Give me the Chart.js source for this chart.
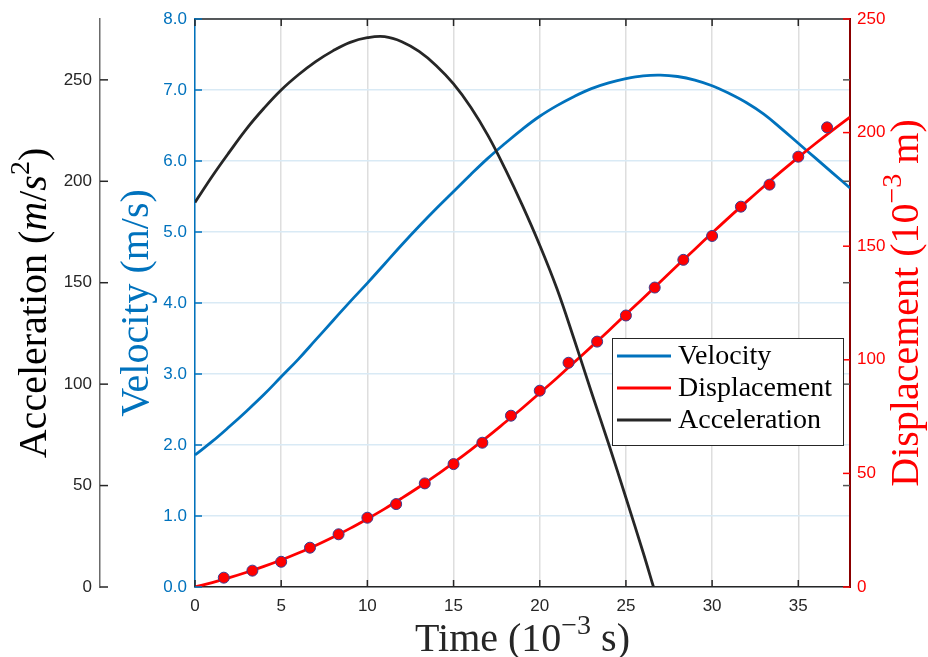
<!DOCTYPE html>
<html>
<head>
<meta charset="utf-8">
<script src="https://cdn.jsdelivr.net/npm/chart.js@4.4.1/dist/chart.umd.min.js"></script>
<style>
  html, body { margin: 0; padding: 0; background: #fff; }
  canvas { display: block; }
</style>
</head>
<body>
<canvas id="motionChart" width="928" height="657"></canvas>
<script>
// Time base in 10^-3 s
const time = [0,1,2,3,4,5,6,7,8,9,10,11,12,13,14,15,16,17,18,19,20,21,22,23,24,25,26,27,28,29,30,31,32,33,34,35,36,37,38];
// Velocity in m/s
const velocity = [1.86,2.05,2.26,2.48,2.71,2.96,3.21,3.48,3.75,4.02,4.28,4.55,4.82,5.08,5.33,5.57,5.81,6.04,6.25,6.45,6.63,6.78,6.91,7.02,7.10,7.16,7.20,7.21,7.19,7.14,7.06,6.95,6.82,6.66,6.46,6.25,6.04,5.83,5.62];
// Displacement (fitted curve) in 10^-3 m
const displacement = [0,1.96,4.11,6.48,9.07,11.9,15.0,18.3,21.9,25.8,30.0,34.4,39.1,44.0,49.2,54.7,60.4,66.3,72.5,78.8,85.4,92.0,98.9,105.8,112.8,120.0,127.1,134.4,141.6,148.7,155.8,162.8,169.6,176.3,182.8,189.1,195.2,201.1,206.8];
// Acceleration in m/s^2 (ends where it reaches zero)
const accelTime = [0,1,2,3,4,5,6,7,8,9,10,11,12,13,14,15,16,17,18,19,20,21,22,23,24,25,26,26.6];
const acceleration = [189.6,202.5,214.5,226,236,245,252.5,259,264.3,268.5,270.8,271.3,268.8,264,257,248,236.5,222.5,206,188,168.5,147,122,96,70.5,44,17,0];
// Measured displacement samples
const sampleTime = [1.67,3.33,5,6.67,8.33,10,11.67,13.33,15,16.67,18.33,20,21.67,23.33,25,26.67,28.33,30,31.67,33.33,35,36.67];
const sampleDisp = [4.1,7.2,11.1,17.3,23.2,30.5,36.5,45.6,54.1,63.5,75.4,86.4,98.7,108.0,119.5,131.8,144.0,154.5,167.4,177.1,189.4,202.3];

// Tick values
const timeTicks = [0,5,10,15,20,25,30,35];
const velocityTicks = [0,1,2,3,4,5,6,7,8];
const dispTicks = [0,50,100,150,200,250];
const accelTicks = [0,50,100,150,200,250];

const BLUE = '#0072BD';
const RED = '#FF0000';
const DARK = '#262626';
const SERIF = '"Liberation Serif", "Times New Roman", serif';
const SANS = '"Liberation Sans", Arial, sans-serif';

const xy = (xs, ys) => xs.map((x, i) => ({ x: x, y: ys[i] }));
const setTicks = list => scale => { scale.ticks = list.map(v => ({ value: v })); };

// rich text: parts with optional italic / superscript
function drawRich(ctx, parts, cx, cy, size, color, rotate) {
    ctx.save();
    ctx.translate(cx, cy);
    if (rotate) ctx.rotate(-Math.PI / 2);
    ctx.fillStyle = color;
    ctx.textBaseline = 'alphabetic';
    const fonts = parts.map(p => (p.it ? 'italic ' : '') + Math.round(p.sup ? size * 0.7 : size) + 'px ' + SERIF);
    const widths = parts.map((p, i) => { ctx.font = fonts[i]; return ctx.measureText(p.t).width; });
    let x = -widths.reduce((a, b) => a + b, 0) / 2;
    parts.forEach((p, i) => {
        ctx.font = fonts[i];
        ctx.fillText(p.t, x, size * 0.32 - (p.sup ? size * 0.42 : 0));
        x += widths[i];
    });
    ctx.restore();
}

const timeTitle = [{ t: 'Time (10' }, { t: '\u22123', sup: true }, { t: ' s)' }];
const velTitle = [{ t: 'Velocity (m/s)' }];
const dispTitle = [{ t: 'Displacement (10' }, { t: '\u22123', sup: true }, { t: ' m)' }];
const accTitle = [{ t: 'Acceleration (' }, { t: 'm', it: true }, { t: '/' }, { t: 's', it: true }, { t: '2', sup: true }, { t: ')' }];

const decorPlugin = {
    id: 'decor',
    afterDraw(chart) {
        const ctx = chart.ctx;
        const a = chart.chartArea;
        const s = chart.scales;
        ctx.save();
        // top box edge
        ctx.strokeStyle = DARK;
        ctx.lineWidth = 1.5;
        ctx.beginPath();
        ctx.moveTo(a.left, a.top);
        ctx.lineTo(a.right, a.top);
        ctx.stroke();
        const tick = (x1, y1, x2, y2, c) => {
            ctx.strokeStyle = c;
            ctx.beginPath(); ctx.moveTo(x1, y1); ctx.lineTo(x2, y2); ctx.stroke();
        };
        s.x.ticks.forEach(t => {
            const px = s.x.getPixelForValue(t.value);
            tick(px, a.bottom, px, a.bottom - 7, DARK);
            tick(px, a.top, px, a.top + 7, DARK);
        });
        s.yVel.ticks.forEach(t => {
            const py = s.yVel.getPixelForValue(t.value);
            tick(a.left, py, a.left + 7, py, BLUE);
        });
        s.yDisp.ticks.forEach(t => {
            const py = s.yDisp.getPixelForValue(t.value);
            tick(a.right, py, a.right - 7, py, RED);
        });
        s.yAcc.ticks.forEach(t => {
            const py = s.yAcc.getPixelForValue(t.value);
            tick(s.yAcc.right, py, s.yAcc.right + 8, py, DARK);
            if (t.value > 0) tick(a.right, py, a.right - 7, py, '#555555');
        });
        ctx.restore();

        // axis titles
        const cy = (a.top + a.bottom) / 2;
        drawRich(ctx, timeTitle, (a.left + a.right) / 2, 638, 40, DARK);
        drawRich(ctx, accTitle, 33, cy, 40, '#000000', true);
        drawRich(ctx, velTitle, 135, cy, 40, BLUE, true);
        drawRich(ctx, dispTitle, 905, cy, 40, RED, true);

        // legend box
        const box = { x: 612, y: 338, w: 231, h: 107 };
        ctx.save();
        ctx.fillStyle = '#ffffff';
        ctx.fillRect(box.x, box.y, box.w, box.h);
        ctx.strokeStyle = DARK;
        ctx.lineWidth = 1;
        ctx.strokeRect(box.x + 0.5, box.y + 0.5, box.w, box.h);
        const items = chart.data.datasets.filter(d => d.inLegend);
        items.sort((p, q) => p.legendRank - q.legendRank);
        items.forEach((d, i) => {
            const ly = box.y + 18 + i * 32;
            ctx.strokeStyle = d.borderColor;
            ctx.lineWidth = 3;
            ctx.beginPath();
            ctx.moveTo(box.x + 5, ly);
            ctx.lineTo(box.x + 59, ly);
            ctx.stroke();
            ctx.fillStyle = '#000000';
            ctx.font = '28px ' + SERIF;
            ctx.textBaseline = 'middle';
            ctx.fillText(d.label, box.x + 66, ly + 1);
        });
        ctx.restore();
    }
};

new Chart(document.getElementById('motionChart'), {
    type: 'line',
    data: {
        datasets: [
            {
                label: 'Acceleration', data: xy(accelTime, acceleration), yAxisID: 'yAcc',
                borderColor: DARK, borderWidth: 2.8, pointRadius: 0, tension: 0.4,
                order: 0, inLegend: true, legendRank: 2
            },
            {
                label: 'Displacement samples', data: xy(sampleTime, sampleDisp), yAxisID: 'yDisp',
                showLine: false, pointRadius: 5.5, pointBackgroundColor: RED, pointBorderColor: '#3b3b8f',
                pointBorderWidth: 1, order: 1
            },
            {
                label: 'Displacement', data: xy(time, displacement), yAxisID: 'yDisp',
                borderColor: RED, borderWidth: 2.8, pointRadius: 0, tension: 0.4,
                order: 2, inLegend: true, legendRank: 1
            },
            {
                label: 'Velocity', data: xy(time, velocity), yAxisID: 'yVel',
                borderColor: BLUE, borderWidth: 2.8, pointRadius: 0, tension: 0.4,
                order: 3, inLegend: true, legendRank: 0
            }
        ]
    },
    options: {
        responsive: false,
        animation: false,
        layout: { padding: { top: 19, left: 0, right: 0, bottom: 0 } },
        plugins: { legend: { display: false }, tooltip: { enabled: false } },
        scales: {
            x: {
                type: 'linear', min: 0, max: 38,
                afterBuildTicks: setTicks(timeTicks),
                afterFit: sc => { sc.height = 70; },
                grid: { color: '#dedede', lineWidth: 1.5, drawTicks: false },
                border: { color: DARK, width: 1.5 },
                ticks: { color: DARK, padding: 9, font: { family: SANS, size: 17 } }
            },
            yAcc: {
                type: 'linear', position: 'left', weight: 1, min: 0, max: 280,
                afterBuildTicks: setTicks(accelTicks),
                afterFit: sc => { sc.width = 100; },
                grid: { display: false, drawTicks: false },
                border: { color: '#6b6b6b', width: 1.5 },
                ticks: { color: DARK, padding: 8, font: { family: SANS, size: 17 } }
            },
            yVel: {
                type: 'linear', position: 'left', weight: 0, min: 0, max: 8,
                afterBuildTicks: setTicks(velocityTicks),
                afterFit: sc => { sc.width = 95; },
                grid: { color: '#d9eaf5', lineWidth: 1.5, drawTicks: false },
                border: { color: BLUE, width: 1.5 },
                ticks: { color: BLUE, padding: 8, font: { family: SANS, size: 17 }, callback: v => v.toFixed(1) }
            },
            yDisp: {
                type: 'linear', position: 'right', min: 0, max: 250,
                afterBuildTicks: setTicks(dispTicks),
                afterFit: sc => { sc.width = 78; },
                grid: { display: false, drawTicks: false },
                border: { color: '#8b0000', width: 2 },
                ticks: { color: RED, padding: 7, font: { family: SANS, size: 17 } }
            }
        }
    },
    plugins: [decorPlugin]
});
</script>
</body>
</html>
